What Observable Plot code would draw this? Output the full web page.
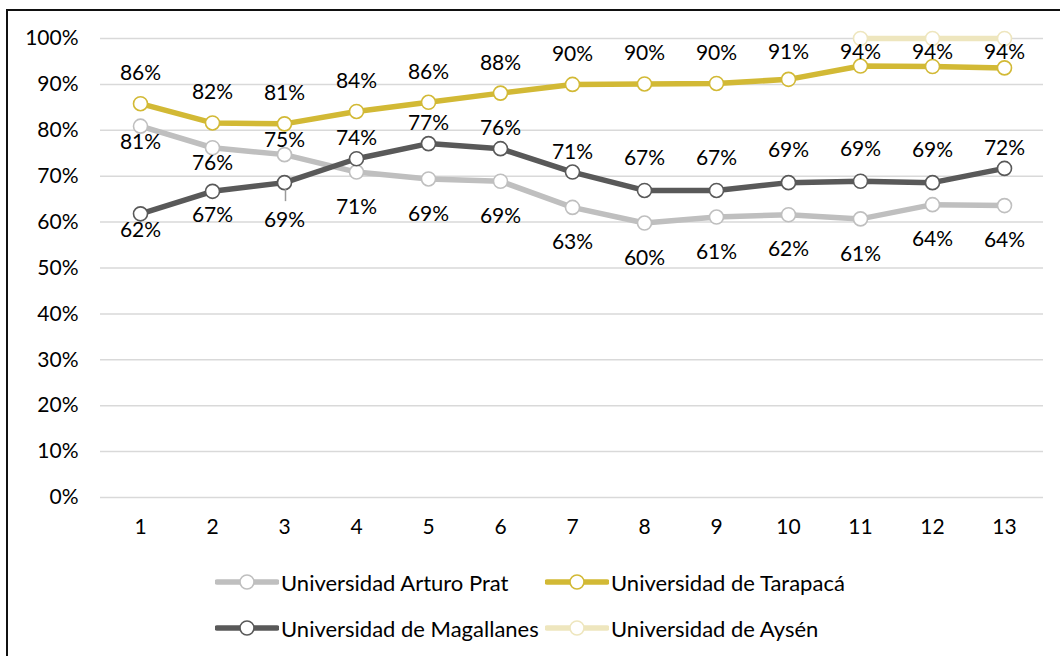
<!DOCTYPE html>
<html>
<head>
<meta charset="utf-8">
<script src="https://cdn.jsdelivr.net/npm/d3@7"></script>
<script src="https://cdn.jsdelivr.net/npm/@observablehq/plot@0.6"></script>
<style>
  html, body { margin: 0; padding: 0; background: #fff; overflow: hidden; width: 1060px; height: 656px; }
  body { position: relative; font-family: Lato, "Open Sans", sans-serif; }
  #frame { position: absolute; left: 6px; top: 9px; width: 1100px; height: 700px; border: 2px solid #111; box-sizing: border-box; }
  #chart { position: absolute; left: 0; top: 0; }
  #legend { position: absolute; left: 0; top: 562px; width: 1060px; }
  .item { position: absolute; display: flex; align-items: center; font-size: 22px; color: #000; white-space: nowrap; }
  .item svg { margin-right: 2px; }
</style>
</head>
<body>
<div id="frame"></div>
<div id="chart"></div>
<div id="legend"></div>
<script>
// ---- data ----
const periods = [1, 2, 3, 4, 5, 6, 7, 8, 9, 10, 11, 12, 13];
const seriesNames = ["Universidad Arturo Prat", "Universidad de Tarapacá", "Universidad de Magallanes", "Universidad de Aysén"];
const arturoPrat = [80.9, 76.2, 74.7, 70.9, 69.4, 68.9, 63.2, 59.8, 61.1, 61.6, 60.7, 63.8, 63.6];
const tarapaca   = [85.8, 81.6, 81.4, 84.1, 86.1, 88.1, 90.0, 90.1, 90.2, 91.1, 94.0, 93.9, 93.6];
const magallanes = [61.8, 66.7, 68.6, 73.8, 77.1, 76.0, 70.9, 66.9, 66.9, 68.6, 68.9, 68.6, 71.7];
const aysen      = [null, null, null, null, null, null, null, null, null, null, 100, 100, 100];
const yTicks = [0, 10, 20, 30, 40, 50, 60, 70, 80, 90, 100];
const colors = ["#BFBFBF", "#D2B935", "#595959", "#EEE6BE"];

const seriesValues = [arturoPrat, tarapaca, magallanes, aysen];
const rows = [];
seriesValues.forEach((vals, s) => {
  vals.forEach((v, i) => {
    if (v != null) rows.push({series: seriesNames[s], s, x: periods[i], v, i});
  });
});

// label placement rules (like Excel's data label positions)
function labelY(d) {
  if (d.s === 1) return Math.min(d.v + 6.6, 96.9);
  return d.v;
}
function labelDy(d) {
  const a = arturoPrat[d.i], m = magallanes[d.i];
  if (d.s === 1) return 0;
  if (d.s === 2) {
    if (m > a) return (m < 70 && d.i > 6) ? -32 : -20;
    return d.i === 2 ? 38 : (d.i === 1 ? 24 : 16);
  }
  if (d.s === 0) {
    if (a < m) return 35;
    return (a - m) < 7 ? -14 : 16;
  }
  return 0;
}

const marks = [
  Plot.gridY(yTicks, {stroke: "#D9D9D9", strokeOpacity: 1, strokeWidth: 1.5}),
  Plot.axisY(yTicks, {tickSize: 0, tickPadding: 22, tickFormat: d => d + "%", fontSize: 21, fill: "#000"}),
  Plot.axisX(periods, {tickSize: 0, tickPadding: 22, fontSize: 21, fill: "#000", label: null})
];
// leader line for the displaced label (drawn under the markers)
const leader = rows.filter(r => labelDy(r) > 36);
seriesNames.forEach((name, s) => {
  const data = rows.filter(r => r.s === s);
  marks.push(Plot.line(data, {x: "x", y: "v", stroke: colors[s], strokeWidth: 5.5, curve: "linear"}));
  marks.push(Plot.dot(data, {x: "x", y: "v", r: 7, fill: "white", stroke: colors[s], strokeWidth: 1.6}));
});
marks.push(Plot.ruleX(leader, {x: "x", y1: "v", y2: "v", dy: 13, dx: 1, stroke: "#9a9a9a", strokeWidth: 1.5, insetTop: -6, insetBottom: -6}));
// labels for the three series with visible labels
const labelled = rows.filter(r => r.s !== 3).map(r => ({...r, dy: labelDy(r)}));
[...new Set(labelled.map(r => r.dy))].forEach(dy => {
  marks.push(Plot.text(labelled.filter(r => r.dy === dy), {
    x: "x", y: labelY, dy, text: d => Math.round(d.v) + "%",
    fontSize: 21, fill: "#000"
  }));
});

const chart = Plot.plot({
  width: 1060,
  height: 545,
  marginTop: 38,
  marginBottom: 48,
  marginLeft: 100,
  marginRight: 17,
  style: {fontFamily: "Lato, 'Open Sans', sans-serif", background: "transparent", overflow: "visible"},
  x: {type: "point", domain: periods, padding: 0.5, label: null},
  y: {domain: [0, 100], label: null},
  marks
});
document.getElementById("chart").appendChild(chart);

// legend
const legendPos = [[215, 20], [545, 20], [215, 66], [545, 66]];
const legend = document.getElementById("legend");
seriesNames.forEach((name, s) => {
  const div = document.createElement("div");
  div.className = "item";
  div.style.left = legendPos[s][0] + "px";
  div.style.top = (legendPos[s][1] - 14) + "px";
  div.innerHTML = `<svg width="64" height="28"><line x1="2" x2="62" y1="14" y2="14" stroke="${colors[s]}" stroke-width="5.5" stroke-linecap="round"/><circle cx="32" cy="14" r="7" fill="white" stroke="${colors[s]}" stroke-width="1.6"/></svg><span>${name}</span>`;
  legend.appendChild(div);
});
</script>
</body>
</html>
